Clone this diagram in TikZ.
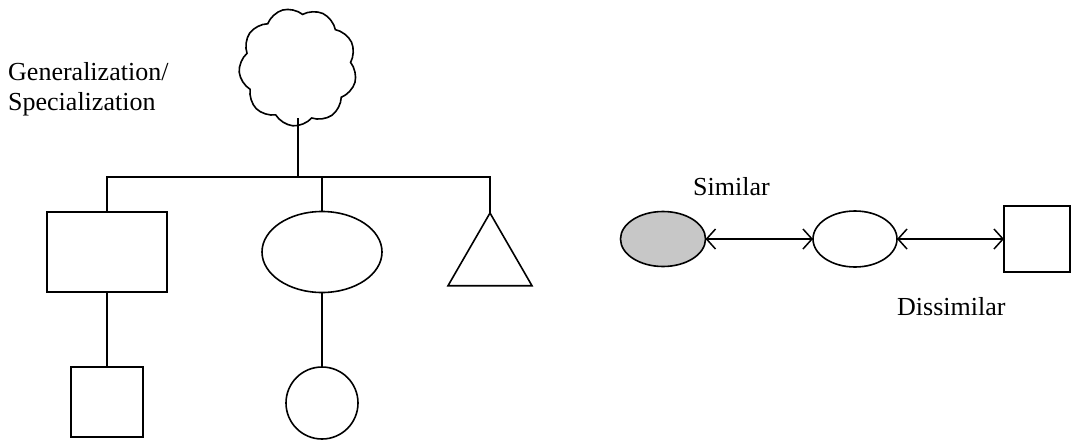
\documentclass[tikz,border=0pt]{standalone}
\usepackage{fontspec}
\setmainfont{Liberation Serif}
\usetikzlibrary{shapes.geometric,shapes.symbols,arrows.meta}
\tikzset{
  shp/.style={draw=black, line width=1.6pt, inner sep=0pt, outer sep=0pt},
  boxshape/.style={shp, rectangle},
  ovalshape/.style={shp, ellipse},
  conn/.style={draw=black, line width=1.5pt},
  dbl/.style={conn, {Straight Barb[length=9pt,width=20pt,line width=1.5pt]}-{Straight Barb[length=9pt,width=20pt,line width=1.5pt]}},
  lbl/.style={font=\fontsize{26}{30}\selectfont, inner sep=0pt, align=left},
}
\begin{document}
\begin{tikzpicture}[x=1pt,y=-1pt]
\useasboundingbox (0,0) rectangle (1076,439);
% left hierarchy
\node[shp, cloud, cloud puffs=9, cloud puff arc=110, aspect=1, minimum width=118pt, minimum height=118pt, rotate=15] (cloud) at (298,67) {};
\node[boxshape, minimum width=120pt, minimum height=80pt] (rect) at (107,252) {};
\node[ovalshape, minimum width=120pt, minimum height=81pt] (ell) at (322,252) {};
\node[shp, regular polygon, regular polygon sides=3, minimum size=97pt] (tri) at (490,261.5) {};
\node[boxshape, minimum width=72pt, minimum height=70pt] (sq) at (107,402) {};
\node[ovalshape, circle, minimum size=72pt] (circ) at (322,403) {};
\coordinate (bar) at (298,177);
\draw[conn] (rect.north) |- (bar) -| (tri.north);
\draw[conn] (bar) -- (bar |- cloud.south);
\draw[conn] (ell.north) -- (ell.north |- bar);
\draw[conn] (rect.south) -- (sq.north);
\draw[conn] (ell.south) -- (circ.north);
\node[lbl, anchor=base west] (gen) at (8,110) {Generalization/\\Specialization};
% right
\node[ovalshape, fill=black!22, minimum width=85pt, minimum height=55pt] (sim) at (663,239) {};
\node[ovalshape, minimum width=84pt, minimum height=56pt] (mid) at (855,239) {};
\node[boxshape, minimum width=66pt, minimum height=66pt] (rsq) at (1037,239) {};
\draw[dbl] (sim) -- (mid);
\draw[dbl] (mid) -- (rsq);
\node[lbl, anchor=base west] (simlbl) at (693,195) {Similar};
\node[lbl, anchor=base west] (dislbl) at (897,315) {Dissimilar};
\end{tikzpicture}
\end{document}
